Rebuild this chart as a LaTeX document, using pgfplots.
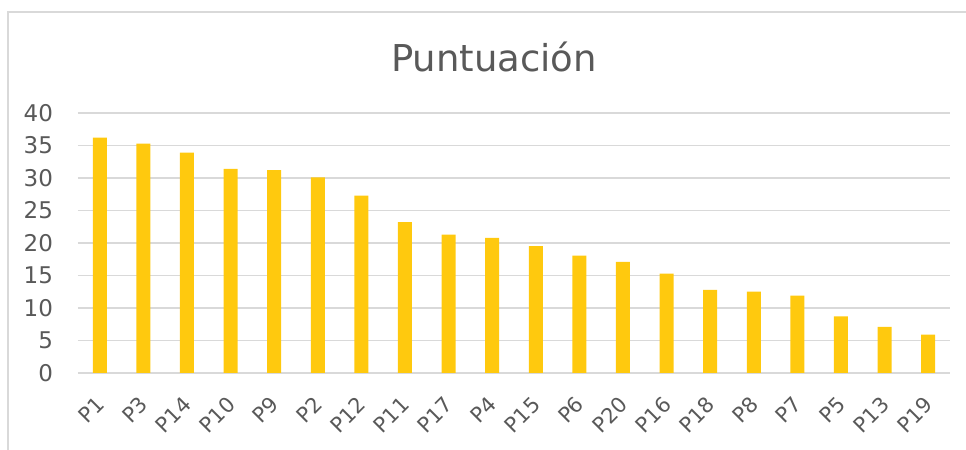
\documentclass[border=0pt]{standalone}
\usepackage{pgfplots}
\pgfplotsset{compat=1.18}
\usepackage{fontspec}
\setmainfont{DejaVu Sans}
\definecolor{barc}{RGB}{255,201,14}
\definecolor{txtc}{RGB}{89,89,89}
\definecolor{gridc}{RGB}{217,217,217}
\begin{document}
\begin{tikzpicture}
\path[use as bounding box] (0pt,0pt) rectangle (483pt,225pt);
\draw[draw=gridc, line width=0.75pt] (4pt,0pt) -- (4pt,219pt) -- (483pt,219pt);
\begin{axis}[
  at={(39pt,38.5pt)}, anchor=south west,
  scale only axis, width=436pt, height=130pt,
  xmin=-0.5, xmax=19.5, ymin=0, ymax=40,
  ytick={0,5,...,40},
  xtick={0,...,19},
  xticklabels={P1,P3,P14,P10,P9,P2,P12,P11,P17,P4,P15,P6,P20,P16,P18,P8,P7,P5,P13,P19},
  xticklabel style={xshift=-2.5pt, yshift=-9.5pt, rotate=45, anchor=north east, font=\fontsize{10.5}{12}\selectfont, text=txtc, inner sep=1pt},
  yticklabel style={font=\fontsize{11.5}{13}\selectfont, text=txtc, xshift=-9pt},
  /pgf/number format/assume math mode=true,
  axis line style={draw=none},
  tick style={draw=none},
  major tick length=0pt,
  xmajorgrids=false, ymajorgrids=true,
  grid style={draw=gridc, line width=0.75pt},
  title={Puntuación}, title style={font=\fontsize{18.5}{22}\selectfont, text=txtc, yshift=11pt, xshift=-10pt},
  ybar, bar width=7pt,
]
\addplot[fill=barc, draw=none] coordinates {
(0,36.2) (1,35.3) (2,33.9) (3,31.4) (4,31.2) (5,30.1) (6,27.3) (7,23.2) (8,21.3) (9,20.8)
(10,19.5) (11,18.05) (12,17.1) (13,15.3) (14,12.8) (15,12.5) (16,11.9) (17,8.7) (18,7.1) (19,5.9)};
\end{axis}
\end{tikzpicture}
\end{document}
